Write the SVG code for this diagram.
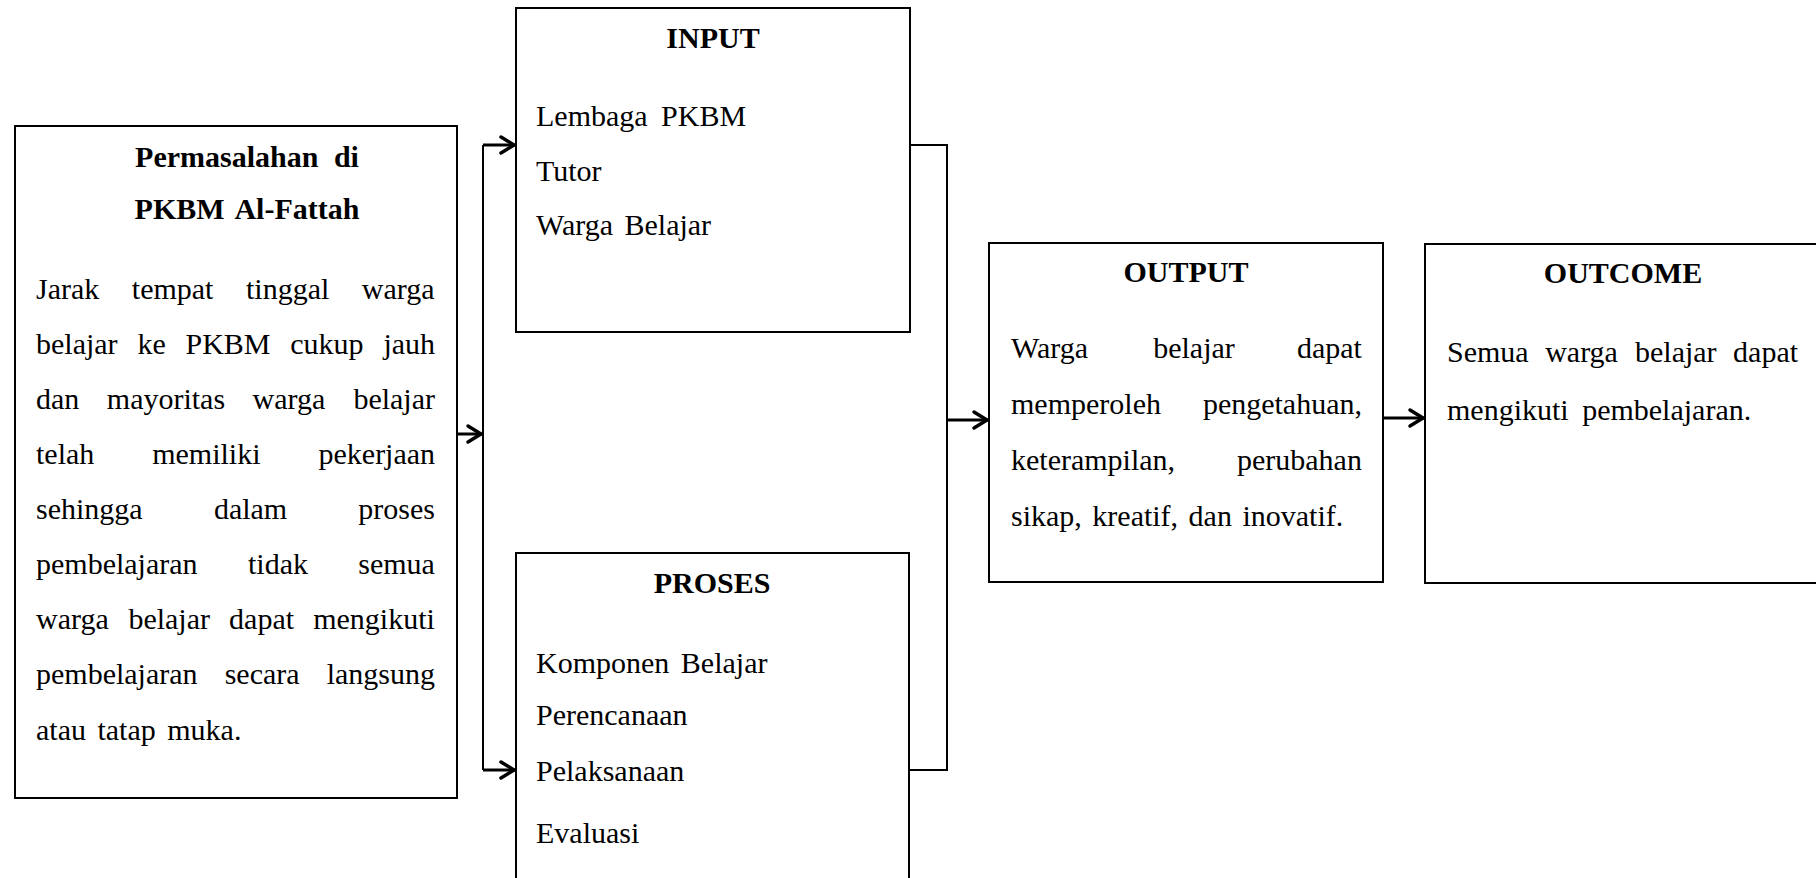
<svg xmlns="http://www.w3.org/2000/svg" width="1816" height="878" viewBox="0 0 1816 878">
<style>
.box{fill:#fff;stroke:#000;stroke-width:2}
.t{font-family:"Liberation Serif","Times New Roman",serif;font-size:30px;fill:#000}
.h{font-family:"Liberation Serif","Times New Roman",serif;font-size:30px;font-weight:bold;fill:#000;text-anchor:middle}
.ln{fill:none;stroke:#000;stroke-width:2}
.ar{fill:none;stroke:#000;stroke-width:3}
</style>
<defs>
<marker id="arr" markerUnits="userSpaceOnUse" viewBox="0 0 22 22" markerWidth="22" markerHeight="22" refX="19" refY="11" orient="auto">
<path d="M5,3 L18,11 L5,19" fill="none" stroke="#000" stroke-width="3.5" stroke-linejoin="round" stroke-linecap="round"/>
</marker>
</defs>
<rect width="1816" height="878" fill="#fff"/>
<g id="connectors">
<path class="ar" d="M457,434 H482" marker-end="url(#arr)"/>
<path class="ln" d="M483,145 V770"/>
<path class="ar" d="M483,145 H515" marker-end="url(#arr)"/>
<path class="ar" d="M483,770 H515" marker-end="url(#arr)"/>
<path class="ln" d="M910,145 H947 V770 H909"/>
<path class="ar" d="M947,420 H988" marker-end="url(#arr)"/>
<path class="ar" d="M1383,418 H1424" marker-end="url(#arr)"/>
</g>
<g id="permasalahan">
<rect class="box" x="15" y="126" width="442" height="672"/>
<text class="h" x="247" y="167" word-spacing="8">Permasalahan di</text>
<text class="h" x="247" y="219" word-spacing="4">PKBM Al-Fattah</text>
<text class="t" y="299"><tspan x="36">Jarak</tspan><tspan x="131.8">tempat</tspan><tspan x="246">tinggal</tspan><tspan x="361.8">warga</tspan></text>
<text class="t" y="354"><tspan x="36">belajar</tspan><tspan x="137.4">ke</tspan><tspan x="185.5">PKBM</tspan><tspan x="290.3">cukup</tspan><tspan x="383.4">jauh</tspan></text>
<text class="t" y="409"><tspan x="36">dan</tspan><tspan x="106.8">mayoritas</tspan><tspan x="252.6">warga</tspan><tspan x="353.4">belajar</tspan></text>
<text class="t" y="464"><tspan x="36">telah</tspan><tspan x="152.2">memiliki</tspan><tspan x="318.5">pekerjaan</tspan></text>
<text class="t" y="519"><tspan x="36">sehingga</tspan><tspan x="213.9">dalam</tspan><tspan x="358.3">proses</tspan></text>
<text class="t" y="574"><tspan x="36">pembelajaran</tspan><tspan x="248">tidak</tspan><tspan x="358.3">semua</tspan></text>
<text class="t" y="629"><tspan x="36">warga</tspan><tspan x="128.4">belajar</tspan><tspan x="229.1">dapat</tspan><tspan x="313.2">mengikuti</tspan></text>
<text class="t" y="684"><tspan x="36">pembelajaran</tspan><tspan x="224.7">secara</tspan><tspan x="326.7">langsung</tspan></text>
<text class="t" x="36" y="740" word-spacing="4">atau tatap muka.</text>
</g>
<g id="input">
<rect class="box" x="516" y="8" width="394" height="324"/>
<text class="h" x="713" y="48">INPUT</text>
<text class="t" x="536" y="126" word-spacing="6">Lembaga PKBM</text>
<text class="t" x="536" y="181">Tutor</text>
<text class="t" x="536" y="235" word-spacing="4">Warga Belajar</text>
</g>
<g id="proses">
<rect class="box" x="516" y="553" width="393" height="345"/>
<text class="h" x="712" y="593">PROSES</text>
<text class="t" x="536" y="673" word-spacing="4">Komponen Belajar</text>
<text class="t" x="536" y="725">Perencanaan</text>
<text class="t" x="536" y="781">Pelaksanaan</text>
<text class="t" x="536" y="843">Evaluasi</text>
</g>
<g id="output">
<rect class="box" x="989" y="243" width="394" height="339"/>
<text class="h" x="1186" y="282">OUTPUT</text>
<text class="t" y="358"><tspan x="1011">Warga</tspan><tspan x="1153.2">belajar</tspan><tspan x="1296.9">dapat</tspan></text>
<text class="t" y="414"><tspan x="1011">memperoleh</tspan><tspan x="1202.9">pengetahuan,</tspan></text>
<text class="t" y="470"><tspan x="1011">keterampilan,</tspan><tspan x="1237">perubahan</tspan></text>
<text class="t" x="1011" y="526" word-spacing="3">sikap, kreatif, dan inovatif.</text>
</g>
<g id="outcome">
<rect class="box" x="1425" y="244" width="400" height="339"/>
<text class="h" x="1623" y="283">OUTCOME</text>
<text class="t" y="362"><tspan x="1447">Semua</tspan><tspan x="1545.2">warga</tspan><tspan x="1635">belajar</tspan><tspan x="1733.1">dapat</tspan></text>
<text class="t" x="1447" y="420" word-spacing="6">mengikuti pembelajaran.</text>
</g>
</svg>
